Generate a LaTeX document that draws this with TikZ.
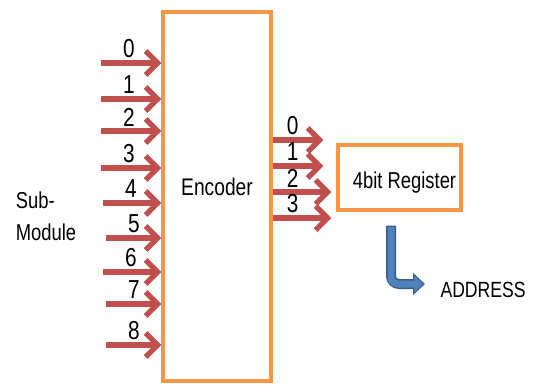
\documentclass[tikz,border=0pt]{standalone}
\usepackage{fontspec}
\setmainfont{Liberation Sans}[FakeStretch=0.8]
\usetikzlibrary{arrows.meta,positioning,calc}
\definecolor{figorange}{HTML}{F79646}
\definecolor{figred}{HTML}{C0504D}
\definecolor{figblue}{HTML}{4F81BD}
\definecolor{fignavy}{HTML}{385D8A}

\begin{document}
\begin{tikzpicture}[x=1pt,y=-1pt,
  sigarrow/.style={-{Straight Barb[length=12pt,width=24pt]}, line width=5.2pt, color=figred},
  bitlabel/.style={font=\fontsize{26}{26}\selectfont, inner sep=0pt},
  blockbox/.style={draw=figorange, line width=3.4pt, fill=white}]
\useasboundingbox (0,0) rectangle (533,385);

\node[blockbox, minimum width=108pt, minimum height=369pt, inner sep=0pt] (encoder) at (217,196.5) {};
\node[font=\fontsize{24}{24}\selectfont] at ($(encoder.center)+(0,-10)$) {Encoder};

\node[blockbox, minimum width=123pt, minimum height=65pt, inner sep=0pt] (register) at (399.5,177.5) {};
\node[font=\fontsize{23}{23}\selectfont] at ($(register.center)+(5,5)$) {4bit Register};

\node[font=\fontsize{23}{32}\selectfont, align=left] (submodule) at (46,216) {Sub-\\Module};

% inputs of the encoder
\foreach \n/\y/\x in {0/63/101,1/99/101,2/131/101,3/168/101,4/203/103,5/238/106,6/272/103,7/304/106,8/345/106}{
  \coordinate (in\n) at (\x,\y);
  \node[bitlabel] at ($(in\n)+(28,-14)$) {\n};
  \draw[sigarrow] (in\n) -- (encoder.west |- in\n);
}

% outputs to the register
\foreach \n/\y/\e in {0/140/-13,1/166/-13,2/192/-5,3/218/-5}{
  \coordinate (out\n) at (encoder.east |- 0,\y);
  \coordinate (end\n) at ($(register.west |- 0,\y)+(\e,0)$);
  \node[bitlabel] at ($(out\n)+(20,-14)$) {\n};
  \draw[sigarrow] (out\n) -- (end\n);
}

% address
\coordinate (bend) at (391,284);
\coordinate (addr) at (425,284);
\draw[line width=10pt, color=fignavy, rounded corners=8pt,
  -{Triangle[length=12pt,width=22pt,line width=1pt,fill=figblue]}]
  ($(register.south)+(-8.5,14)$) -- (bend) -- (addr);
\draw[line width=7pt, color=figblue, rounded corners=7pt]
  ($(register.south)+(-8.5,15.5)$) -- (bend) -- ($(addr)+(-10,0)$);
\node[font=\fontsize{22}{22}\selectfont, anchor=west] (address) at (437,290) {ADDRESS};
\end{tikzpicture}
\end{document}
